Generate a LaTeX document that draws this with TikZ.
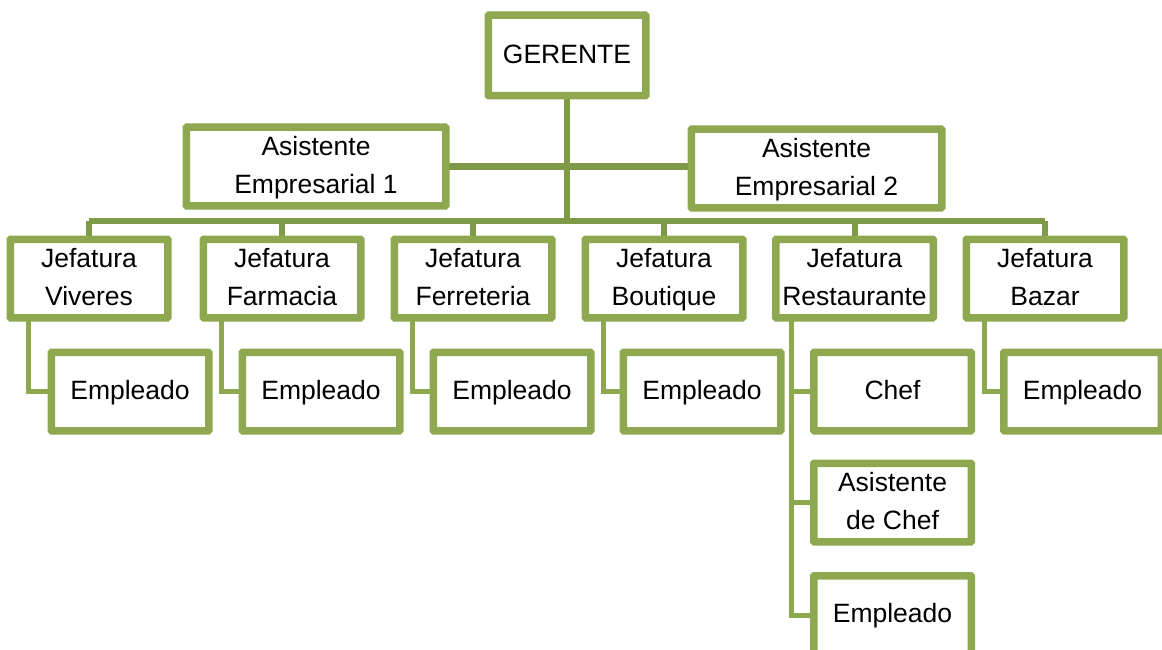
\documentclass[tikz,border=0pt]{standalone}
\usepackage{fontspec}
\setmainfont{Liberation Sans}
\definecolor{boxgreen}{HTML}{8DA84F}
\definecolor{linegreen}{HTML}{7E9A48}
\newcommand{\mystr}{\strut}
\begin{document}
\begin{tikzpicture}[x=1pt,y=-1pt,
  box/.style={draw=boxgreen, line width=5pt, fill=white, rounded corners=1.5pt,
    minimum width=155pt, minimum height=72pt, inner sep=0pt, align=center,
    font=\fontsize{26.5}{38}\selectfont},
  emp/.style={box, minimum height=76pt},
  main/.style={draw=linegreen, line width=6pt},
  sub/.style={draw=boxgreen, line width=5pt}]
\useasboundingbox (0,0) rectangle (1162,650);
\coordinate (bar) at (567,221);
\coordinate (barL) at (89,221);
\coordinate (barR) at (1045,221);
% nodes
\node[box, minimum height=78pt] (ger) at (567,55.5) {\mystr GERENTE};
\node[box, minimum width=257pt] (as1) at (316,166.5) {\mystr Asistente\\\mystr Empresarial 1};
\node[box, minimum width=248pt] (as2) at (816.5,168.5) {\mystr Asistente\\\mystr Empresarial 2};
\node[box] (j1) at (89,278.5) {\mystr Jefatura\\\mystr Viveres};
\node[box] (j2) at (282,278.5) {\mystr Jefatura\\\mystr Farmacia};
\node[box] (j3) at (473,278.5) {\mystr Jefatura\\\mystr Ferreteria};
\node[box] (j4) at (664,278.5) {\mystr Jefatura\\\mystr Boutique};
\node[box] (j5) at (854.5,278.5) {\mystr Jefatura\\\mystr Restaurante};
\node[box] (j6) at (1045,278.5) {\mystr Jefatura\\\mystr Bazar};
\node[emp] (e1) at (130,391.5) {\mystr Empleado};
\node[emp] (e2) at (321,391.5) {\mystr Empleado};
\node[emp] (e3) at (512,391.5) {\mystr Empleado};
\node[emp] (e4) at (702,391.5) {\mystr Empleado};
\node[emp] (chef) at (892.5,391.5) {\mystr Chef};
\node[emp] (achef) at (892.5,502.5) {\mystr Asistente\\\mystr de Chef};
\node[emp] (e5) at (892.5,615) {\mystr Empleado};
\node[emp] (e6) at (1082.5,391.5) {\mystr Empleado};
% main connectors
\draw[main] (ger.south) -- (bar);
\draw[main] (as1.east) -- (as1.east -| bar);
\draw[main] (as2.west |- as1.east) -- (as1.east -| bar);
\draw[main] (barL) -- (barR);
\foreach \j in {j1,j2,j3,j4,j5,j6} \draw[main] (\j.north |- bar) -- (\j.north);
% sub connectors
\foreach \j/\e in {j1/e1,j2/e2,j3/e3,j4/e4,j6/e6}
  \draw[sub] ([xshift=19pt]\j.south west) |- (\e.west);
\draw[sub] ([xshift=17pt]j5.south west) |- (e5.west);
\draw[sub] ([xshift=17pt]j5.south west |- chef.west) -- (chef.west);
\draw[sub] ([xshift=17pt]j5.south west |- achef.west) -- (achef.west);
% redraw box borders over line ends
\foreach \n in {ger,as1,as2,j1,j2,j3,j4,j5,j6,e1,e2,e3,e4,chef,achef,e5,e6}
  \draw[draw=boxgreen, line width=5pt, rounded corners=1.5pt] (\n.south west) rectangle (\n.north east);
\end{tikzpicture}
\end{document}
